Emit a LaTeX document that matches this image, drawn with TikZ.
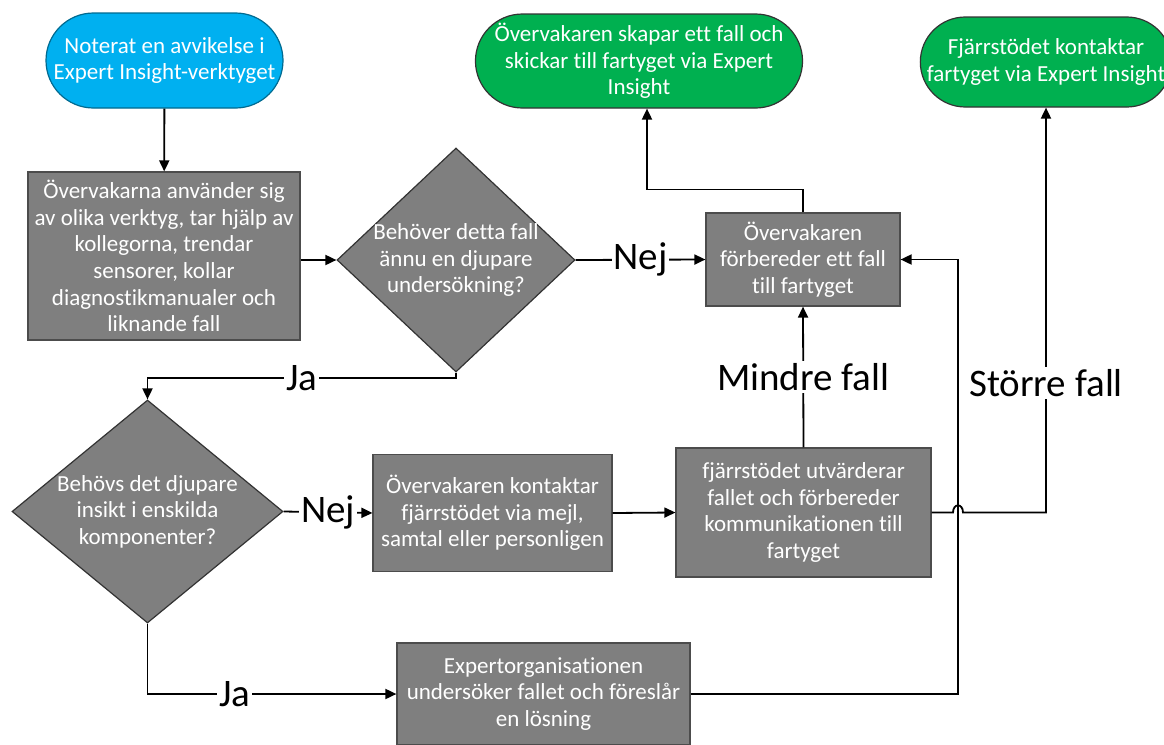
\documentclass[tikz,border=0pt]{standalone}
\usepackage{fontspec}
\setmainfont{Carlito}[Ligatures=NoCommon]
\usetikzlibrary{shapes.geometric}
\usetikzlibrary{shapes.misc}
\usetikzlibrary{arrows.meta}

\definecolor{termblue}{RGB}{0,176,240}
\definecolor{termgreen}{RGB}{0,176,80}
\definecolor{procgray}{RGB}{127,127,127}

\tikzset{
  boxtext/.style={text=white, align=center, font=\fontsize{11.5}{13.3}\selectfont},
  stepbox/.style={rectangle, draw=black!70, fill=procgray, inner sep=0pt, line width=0.6pt, boxtext},
  termnode/.style={rounded rectangle, draw=black!80, inner sep=0pt, line width=0.6pt, boxtext},
  choice/.style={diamond, draw=black!80, fill=procgray, inner sep=0pt, line width=0.6pt},
  flow/.style={line width=0.9pt, -{Triangle[length=5.5pt,width=5pt]}},
  edgelbl/.style={fill=white, inner sep=1pt, font=\fontsize{19.5}{21}\selectfont}
}

\begin{document}
\begin{tikzpicture}[x=0.5pt,y=-0.5pt]
\useasboundingbox (0,0) rectangle (1164,745);

%Shape: start
\node [termnode, fill=termblue, draw=termblue!60!black, minimum width=118.5pt, minimum height=47.5pt] (start) at (164.5,60.5)
  {Noterat en avvikelse i\\Expert Insight-verktyget};
%Shape: Rectangle
\node [stepbox, minimum width=136pt, minimum height=84pt] (monitor) at (164,256)
  {Övervakarna använder sig\\av olika verktyg, tar hjälp av\\kollegorna, trendar\\sensorer, kollar\\diagnostikmanualer och\\liknande fall};
%Shape: Diamond
\node [choice, minimum width=119pt, minimum height=112pt] (deeper) at (456,260)
  {};
\node [boxtext] (deepertxt) at (deeper.center) {Behöver detta fall\\ännu en djupare\\undersökning?};
%Shape: end
\node [termnode, fill=termgreen, minimum width=158pt, minimum height=47pt] (caseend) at (639,61)
  {Övervakaren skapar ett fall och\\skickar till fartyget via Expert\\Insight};
%Shape: end
\node [termnode, fill=termgreen, minimum width=120pt, minimum height=45pt] (remoteend) at (1046,62)
  {Fjärrstödet kontaktar\\fartyget via Expert Insight};
%Shape: Rectangle
\node [stepbox, minimum width=97pt, minimum height=46.5pt] (prepare) at (803,259.5)
  {Övervakaren\\förbereder ett fall\\till fartyget};
%Shape: Diamond
\node [choice, minimum width=135.5pt, minimum height=111.5pt] (insight) at (147.5,511.5)
  {};
\node [boxtext] (insighttxt) at (insight.center) {Behövs det djupare\\insikt i enskilda\\komponenter?};
%Shape: Rectangle
\node [stepbox, minimum width=119.5pt, minimum height=58.5pt] (contact) at (492.5,513)
  {Övervakaren kontaktar\\fjärrstödet via mejl,\\samtal eller personligen};
%Shape: Rectangle
\node [stepbox, minimum width=127.5pt, minimum height=64.5pt] (evaluate) at (803.5,512.5)
  {fjärrstödet utvärderar\\fallet och förbereder\\kommunikationen till\\fartyget};
%Shape: Rectangle
\node [stepbox, minimum width=146.5pt, minimum height=51pt] (expert) at (543.5,694)
  {Expertorganisationen\\undersöker fallet och föreslår\\en lösning};

%Points for the bends
\coordinate (jaturn) at (456,378);
\coordinate (jacorner) at (147.5,378);
\coordinate (hopin) at (953,512.5);
\coordinate (hopout) at (963,512.5);
\coordinate (backup) at (958,259.5);

% Connection
\draw [flow] (start) -- (monitor);
\draw [flow] (monitor.east |- deeper.west) -- (deeper.west);
\draw [flow] (deeper.east) -- node [edgelbl] {Nej} (prepare.west);
\draw [flow] (deeper.south) -- (jaturn) -- node [edgelbl] {Ja} (jacorner) -- (insight.north);
\draw [flow] (prepare.north) -- ++(0,-23) -| ([xshift=4pt]caseend.south);
\draw [flow] (insight.east) -- node [edgelbl] {Nej} (contact.west);
\draw [flow] (insight.south) -- (insight.south |- expert.west) -- node [edgelbl, pos=0.35] {Ja} (expert.west);
\draw [flow] (contact.east) -- (evaluate.west);
\draw [flow] (evaluate.north) -- node [edgelbl] {Mindre fall} (prepare.south);
\draw [flow] (expert.east) -| (backup) -- (prepare.east);
\draw [flow] (evaluate.east) -- (hopin) .. controls (953,503) and (963,503) .. (hopout) -| node [edgelbl, pos=0.66] {Större fall} (remoteend.south);

\end{tikzpicture}
\end{document}
